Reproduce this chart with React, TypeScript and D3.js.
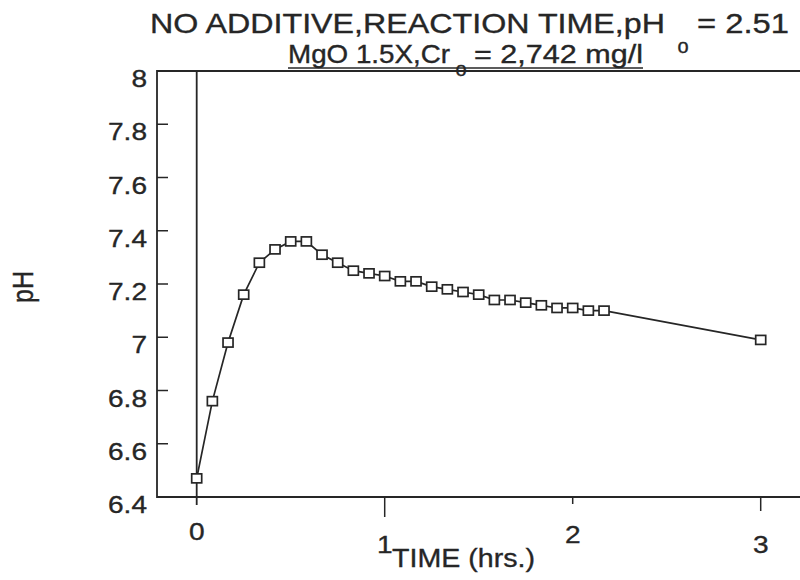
import React from "react";
import * as d3 from "d3";

const timeMin = [0, 5, 10, 15, 20, 25, 30, 35, 40, 45, 50, 55, 60, 65, 70, 75, 80, 85, 90, 95, 100, 105, 110, 115, 120, 125, 130, 180];
const pHValues = [6.47, 6.76, 6.98, 7.16, 7.28, 7.33, 7.36, 7.36, 7.31, 7.28, 7.25, 7.24, 7.23, 7.21, 7.21, 7.19, 7.18, 7.17, 7.16, 7.14, 7.14, 7.13, 7.12, 7.11, 7.11, 7.10, 7.10, 6.99];
const yTicks = [6.4, 6.6, 6.8, 7, 7.2, 7.4, 7.6, 7.8, 8];
const xTicks = [0, 1, 2, 3];
const xTickDy = [43, 56, 46, 56];
const xTickLen = [0, 20, 7, 14];

const FONT = "'Liberation Sans', Arial, Helvetica, sans-serif";
const INK = "#262626";

export default function App() {
  const left = 157, top = 71, bottom = 497, right = 806;
  const x = d3.scaleLinear().domain([0, 3]).range([196.7, 760.7]);
  const y = d3.scaleLinear().domain([6.4, 8]).range([bottom, top]);
  const pts = timeMin.map((t, i) => [t / 60, pHValues[i]] as [number, number]);
  const line = d3.line<[number, number]>().x(d => x(d[0])).y(d => y(d[1]));
  const fmt = (v: number) => String(+v.toFixed(1));
  const txt = { fontFamily: FONT, fill: INK, stroke: INK, strokeWidth: 0.35 } as const;

  return (
    <svg width={800} height={580} style={{ position: "absolute", left: 0, top: 0, background: "#fff" }}>
      <rect x={0} y={0} width={800} height={580} fill="#fff" />
      {/* Title */}
      <g {...txt}>
        <text x={150} y={33} fontSize={28} textLength={515} lengthAdjust="spacingAndGlyphs">NO ADDITIVE,REACTION TIME,pH</text>
        <text x={683} y={53} fontSize={20} textAnchor="middle">o</text>
        <text x={697} y={33} fontSize={28} textLength={92} lengthAdjust="spacingAndGlyphs">= 2.51</text>
        <text x={288} y={63} fontSize={25} textLength={162} lengthAdjust="spacingAndGlyphs">MgO 1.5X,Cr</text>
        <text x={461} y={76} fontSize={20} textAnchor="middle">o</text>
        <text x={474} y={63} fontSize={25} textLength={169} lengthAdjust="spacingAndGlyphs">= 2,742 mg/l</text>
      </g>
      <line x1={288} x2={643} y1={68} y2={68} stroke={INK} strokeWidth={1.6} />

      {/* Frame */}
      <path d={`M${right},${top}H${left}V${bottom}H${right}`} fill="none" stroke={INK} strokeWidth={1.8} />
      {/* zero line */}
      <line x1={x(0)} x2={x(0)} y1={top} y2={bottom + 8} stroke={INK} strokeWidth={1.8} />

      {/* Y ticks */}
      {yTicks.map(v => (
        <g key={v}>
          {v > 6.4 && v < 8 && <line x1={left} x2={left + 11} y1={y(v)} y2={y(v)} stroke={INK} strokeWidth={1.5} />}
          <text transform={`translate(147,${y(v) + 16}) scale(1.17,1)`} textAnchor="end" fontSize={24} {...txt}>{fmt(v)}</text>
        </g>
      ))}

      {/* X ticks */}
      {xTicks.map((v, i) => (
        <g key={v}>
          {xTickLen[i] > 0 && <line x1={x(v)} x2={x(v)} y1={bottom} y2={bottom + xTickLen[i]} stroke={INK} strokeWidth={1.5} />}
          <text transform={`translate(${x(v)},${bottom + xTickDy[i]}) scale(1.17,1)`} textAnchor="middle" fontSize={24} {...txt}>{v}</text>
        </g>
      ))}

      {/* Axis titles */}
      <text x={392} y={567} fontSize={26} {...txt} textLength={143} lengthAdjust="spacingAndGlyphs">TIME (hrs.)</text>
      <text transform="translate(33,287) rotate(-90) scale(1,1.17)" textAnchor="middle" fontSize={25} {...txt}>pH</text>

      {/* Data */}
      <path d={line(pts) || ""} fill="none" stroke={INK} strokeWidth={1.7} />
      {pts.map((d, i) => (
        <rect key={i} x={x(d[0]) - 5} y={y(d[1]) - 4.5} width={10} height={9} fill="#fff" stroke={INK} strokeWidth={1.7} />
      ))}
    </svg>
  );
}
